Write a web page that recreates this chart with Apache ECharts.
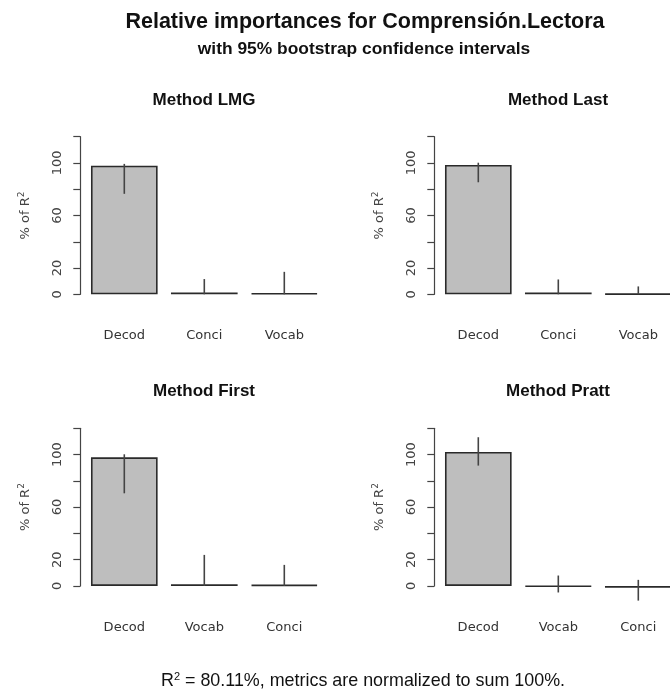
<!DOCTYPE html>
<html>
<head>
<meta charset="utf-8">
<script src="https://cdn.jsdelivr.net/npm/echarts@6/dist/echarts.min.js"></script>
<style>
html, body { margin: 0; padding: 0; background: #fff; overflow: hidden; }
#chart { width: 690px; height: 690px; }
</style>
</head>
<body>
<div id="chart"></div>
<script>
// panel data
var panelTitles = ['Method LMG', 'Method Last', 'Method First', 'Method Pratt'];

var catsLMG = ['Decod', 'Conci', 'Vocab'];
var valLMG = [97.9, 1.3, 0.8];
var lowLMG = [76.5, 0, 0];
var upLMG = [99.3, 11.6, 17.1];

var catsLast = ['Decod', 'Conci', 'Vocab'];
var valLast = [98.5, 1.3, 0.2];
var lowLast = [85.3, 0, 0];
var upLast = [100.2, 11.3, 6];

var catsFirst = ['Decod', 'Vocab', 'Conci'];
var valFirst = [97.9, 1.3, 0.8];
var lowFirst = [70.5, 0, 0];
var upFirst = [100.2, 23.6, 16];

var catsPratt = ['Decod', 'Vocab', 'Conci'];
var valPratt = [102, -0.5, -1.5];
var lowPratt = [91.6, -5, -11.2];
var upPratt = [113.2, 7.9, 4.6];

var yTickLabels = [0, 20, 60, 100];

var panels = [
    {cats: catsLMG, val: valLMG, low: lowLMG, up: upLMG},
    {cats: catsLast, val: valLast, low: lowLast, up: upLast},
    {cats: catsFirst, val: valFirst, low: lowFirst, up: upFirst},
    {cats: catsPratt, val: valPratt, low: lowPratt, up: upPratt}
];

var font = '"Liberation Sans", Arial, sans-serif';
var axFont = '"DejaVu Sans", sans-serif';
var gridLefts = [84.3, 438.3, 84.3, 438.3];
var gridTops = [136.7, 136.7, 428.3, 428.3];
var titleTops = [92, 92, 383, 383];
var titleCenters = [204, 558, 204, 558];

// the chart is a bit wider than the window: the right panels run off the edge, as in the picture
var chart = echarts.init(document.getElementById('chart'), null, {renderer: 'canvas'});

var grids = [], xAxes = [], yAxes = [], series = [], titles = [];

titles.push({
    text: 'Relative importances for Comprensión.Lectora',
    left: 365, top: 11, textAlign: 'center', padding: 0,
    textStyle: {fontFamily: font, fontSize: 21.5, fontWeight: 'bold', color: '#111'}
});
titles.push({
    text: 'with 95% bootstrap confidence intervals',
    left: 364, top: 41, textAlign: 'center', padding: 0,
    textStyle: {fontFamily: font, fontSize: 17.4, fontWeight: 'bold', color: '#111'}
});
titles.push({
    text: 'R{sup|2} = 80.11%, metrics are normalized to sum 100%.',
    left: 363, top: 671, textAlign: 'center', padding: 0,
    textStyle: {
        fontFamily: font, fontSize: 17.9, fontWeight: 'normal', color: '#111',
        rich: {sup: {fontFamily: font, fontSize: 11, fontWeight: 'normal', color: '#111', verticalAlign: 'top', padding: [0, 0, 9, 0]}}
    }
});

panels.forEach(function(p, i){
    titles.push({
        text: panelTitles[i],
        left: titleCenters[i], top: titleTops[i], textAlign: 'center', padding: 0,
        textStyle: {fontFamily: font, fontSize: 17, fontWeight: 'bold', color: '#111'}
    });
    grids.push({left: gridLefts[i], top: gridTops[i], width: 240, height: 157.6});
    xAxes.push({
        type: 'category', gridIndex: i, data: p.cats,
        axisLine: {show: false}, axisTick: {show: false},
        axisLabel: {margin: 35, fontFamily: axFont, fontSize: 13, color: '#333'}
    });
    yAxes.push({
        type: 'value', gridIndex: i, min: 0, max: 120, interval: 20, offset: 4,
        splitLine: {show: false},
        axisLine: {show: true, lineStyle: {color: '#444', width: 1.2}},
        axisTick: {show: true, length: 7, lineStyle: {color: '#444', width: 1.2}},
        axisLabel: {
            rotate: 90, margin: 16, fontFamily: axFont, fontSize: 13, color: '#444',
            formatter: function(v){ return yTickLabels.indexOf(v) >= 0 ? String(v) : ''; }
        },
        name: '% of R{sup|2}', nameLocation: 'middle', nameRotate: 90, nameGap: 47,
        nameTextStyle: {
            fontFamily: axFont, fontSize: 13, color: '#444',
            rich: {sup: {fontFamily: axFont, fontSize: 9, color: '#444', verticalAlign: 'top', padding: [0, 0, 7, 0]}}
        }
    });
    series.push({
        type: 'bar', xAxisIndex: i, yAxisIndex: i, data: p.val, clip: false,
        barCategoryGap: '16.7%',
        itemStyle: {color: '#bebebe', borderColor: '#2a2a2a', borderWidth: 1.6}
    });
    series.push({
        type: 'custom', xAxisIndex: i, yAxisIndex: i, clip: false, z: 5,
        data: p.cats.map(function(c, j){ return [j, p.low[j], p.up[j]]; }),
        renderItem: function(params, api){
            var a = api.coord([api.value(0), api.value(1)]);
            var b = api.coord([api.value(0), api.value(2)]);
            return {
                type: 'line',
                shape: {x1: a[0], y1: a[1], x2: b[0], y2: b[1]},
                style: {stroke: '#444', lineWidth: 1.6}
            };
        }
    });
});

chart.setOption({
    animation: false,
    backgroundColor: '#fff',
    title: titles,
    grid: grids,
    xAxis: xAxes,
    yAxis: yAxes,
    series: series
});
</script>
</body>
</html>
